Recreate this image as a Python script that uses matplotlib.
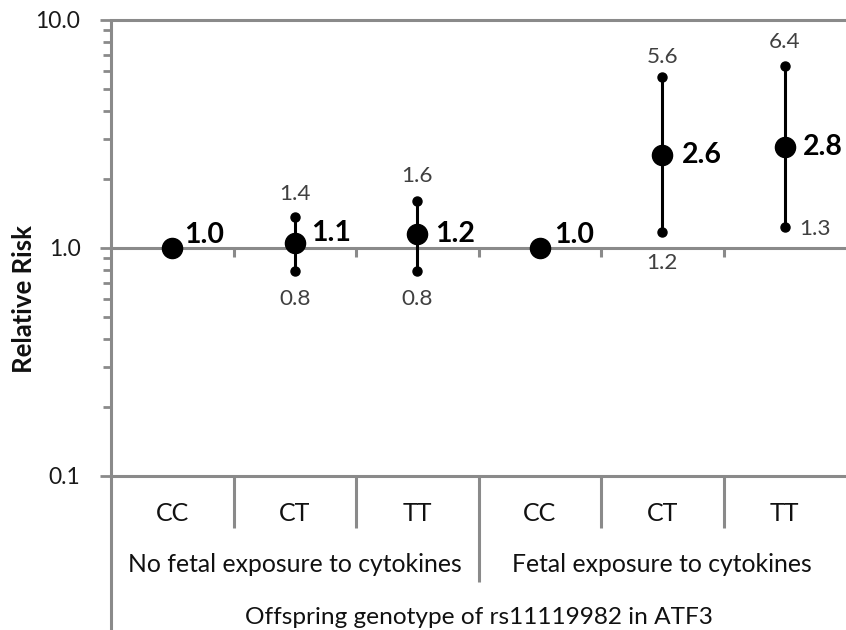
import numpy as np
import matplotlib
matplotlib.use("Agg")
import matplotlib.pyplot as plt
import matplotlib.transforms as mtransforms

plt.rcParams['font.family'] = ['Lato', 'DejaVu Sans']

# ---- data ----
groups = ['No fetal exposure to cytokines', 'Fetal exposure to cytokines']
genotypes = ['CC', 'CT', 'TT', 'CC', 'CT', 'TT']
rr = [1.0, 1.05, 1.15, 1.0, 2.57, 2.78]
ci_lo = [np.nan, 0.79, 0.79, np.nan, 1.18, 1.24]
ci_hi = [np.nan, 1.37, 1.61, np.nan, 5.6, 6.3]
rr_labels = ['1.0', '1.1', '1.2', '1.0', '2.6', '2.8']
lo_labels = ['', '0.8', '0.8', '', '1.2', '1.3']
hi_labels = ['', '1.4', '1.6', '', '5.6', '6.4']
y_ticks = [0.1, 1.0, 10.0]
y_ticklabels = ['0.1', '1.0', '10.0']
x_title = 'Offspring genotype of rs11119982 in ATF3'
y_title = 'Relative Risk'

# ---- style ----
GRAY = '#8a8a8a'
LW = 2.2
W, H = 846, 630
fig = plt.figure(figsize=(W / 100, H / 100), dpi=100)
ax_l, ax_r, ax_t, ax_b = 111, 846, 20, 476
ax = fig.add_axes([ax_l / W, 1 - ax_b / H, (ax_r - ax_l) / W, (ax_b - ax_t) / H])
ax.set_yscale('log')
ax.set_ylim(0.1, 10)
ax.set_xlim(-0.5, len(genotypes) - 0.5)
for s in ax.spines.values():
    s.set_visible(False)
ax.patch.set_alpha(0)

# horizontal lines (axis at 0.1, grid at 1 and 10)
for yv in y_ticks:
    ax.axhline(yv, color=GRAY, lw=LW, clip_on=False, zorder=1)

# y ticks
ax.set_yticks(y_ticks, y_ticklabels)
minor = [m * 10.0 ** e for e in (-1, 0) for m in range(2, 10)]
ax.set_yticks(minor, minor=True)
ax.yaxis.set_minor_formatter(matplotlib.ticker.NullFormatter())
ax.tick_params(axis='y', which='major', direction='out', length=8, width=2,
               color=GRAY, labelsize=16.5, labelcolor='#1a1a1a', pad=14)
ax.tick_params(axis='y', which='minor', direction='out', length=6, width=2, color=GRAY)
ax.set_xticks([])

px = 100 / 72.0  # px per point
blend = mtransforms.blended_transform_factory(ax.transData, ax.transAxes)
H_ax = ax_b - ax_t

def fy(ypx):
    return (ax_b - ypx) / H_ax

# left spine extended to bottom
ax.plot([-0.5, -0.5], [1.0, fy(H)], transform=blend, color=GRAY, lw=LW,
        clip_on=False, solid_capstyle='butt', zorder=1)

# category boundaries: small ticks down from 1.0 line and separators under axis
n = len(genotypes)
bounds = [i + 0.5 for i in range(n - 1)]
for b in bounds:
    ax.plot([b, b], [1.0, 10 ** (-9 / 228)], color=GRAY, lw=LW,
            solid_capstyle='butt', zorder=1)
    bottom = 582 if b == 2.5 else 528
    ax.plot([b, b], [0, fy(bottom)], transform=blend, color=GRAY, lw=LW,
            clip_on=False, solid_capstyle='butt', zorder=1)

# category labels
for i, g in enumerate(genotypes):
    ax.text(i, fy(521), g, transform=blend, ha='center', va='baseline',
            fontsize=18, color='#111111')
for k, gname in enumerate(groups):
    ax.text(1 + 3 * k, fy(572), gname, transform=blend, ha='center', va='baseline',
            fontsize=17.8, color='#111111')
ax.text((n - 1) / 2, fy(624), x_title, transform=blend, ha='center', va='baseline',
        fontsize=17.6, color='#111111')

fig.text(24 / W, 1 - 299 / H, y_title, rotation=90, ha='center', va='center',
         fontsize=18.5, fontweight='bold', color='#111111')

# error bars and points
x = np.arange(n)
lo = np.array(ci_lo)
hi = np.array(ci_hi)
has = ~np.isnan(lo)
ax.vlines(x[has], lo[has], hi[has], color='black', lw=LW, zorder=3)
ax.plot(x[has], lo[has], 'o', color='black', ms=6.5, zorder=3, clip_on=False)
ax.plot(x[has], hi[has], 'o', color='black', ms=6.5, zorder=3, clip_on=False)
ax.plot(x, rr, 'o', color='black', ms=14.5, zorder=4, clip_on=False)

# point labels (offsets in px)
pt_dx = [12, 16, 18, 14, 20, 18]
pt_dy = [13, 10, 0, 13, 0, 0]
for i in range(n):
    ax.annotate(rr_labels[i], (x[i], rr[i]), xytext=(pt_dx[i] / px, pt_dy[i] / px),
                textcoords='offset points', ha='left', va='center',
                fontsize=20.5, fontweight='bold', color='black', zorder=5)

hi_dy = [0, 23, 24.5, 0, 20, 24]
lo_dy = [0, -28, -28, 0, -31, -2]
lo_dx = [0, 0, 0, 0, 0, 14]
for i in range(n):
    if not has[i]:
        continue
    ax.annotate(hi_labels[i], (x[i], hi[i]), xytext=(0, hi_dy[i] / px),
                textcoords='offset points', ha='center', va='center',
                fontsize=16.2, color='#404040', zorder=5)
    ax.annotate(lo_labels[i], (x[i], lo[i]), xytext=(lo_dx[i] / px, lo_dy[i] / px),
                textcoords='offset points', ha='left' if lo_dx[i] else 'center',
                va='center', fontsize=16.2, color='#404040', zorder=5)

fig.savefig('out.png', dpi=100)
